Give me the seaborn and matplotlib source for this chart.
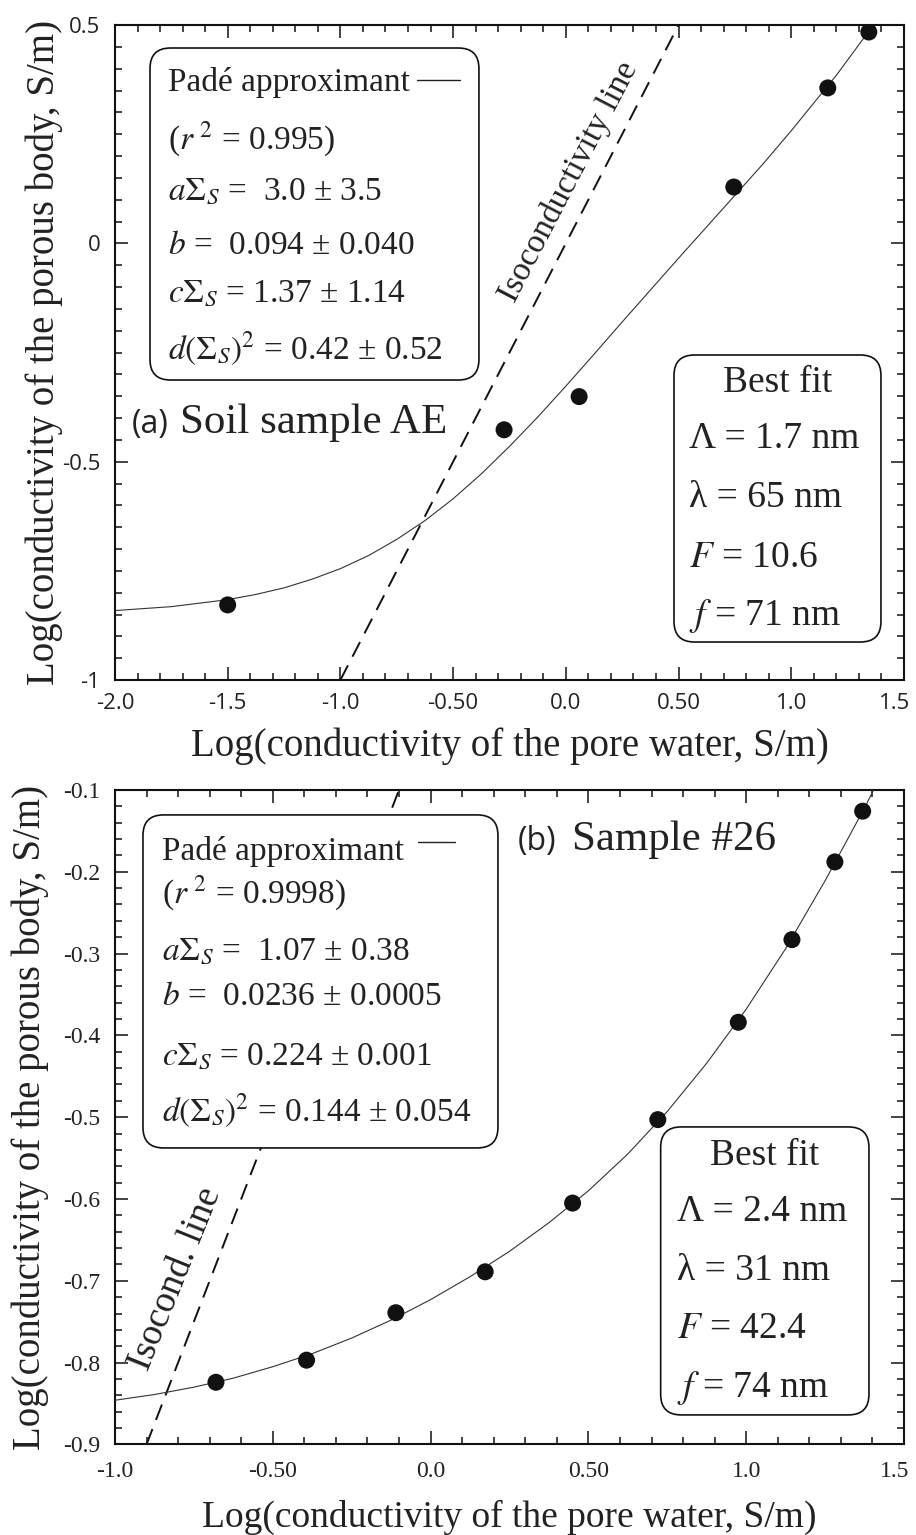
import numpy as np
import pandas as pd
import matplotlib
matplotlib.use("Agg")
import matplotlib.pyplot as plt
import seaborn as sns
from matplotlib.patches import FancyBboxPatch
from matplotlib.lines import Line2D
from matplotlib.ticker import MultipleLocator
from matplotlib.transforms import ScaledTranslation

# ---------------- data: panel (a) Soil sample AE ----------------
a_pts_x = [-1.50, -0.274, 0.059, 0.745, 1.162, 1.344]
a_pts_y = [-0.828, -0.427, -0.351, 0.129, 0.356, 0.484]
a_fit_x = [-2.0, -1.75, -1.5, -1.375, -1.25, -1.125, -1.0, -0.875, -0.75, -0.625,
           -0.5, -0.375, -0.25, -0.125, 0.0, 0.125, 0.25, 0.375, 0.5, 0.625,
           0.75, 0.875, 1.0, 1.2, 1.4]
a_fit_y = [-0.841, -0.832, -0.816, -0.804, -0.789, -0.769, -0.745, -0.715, -0.678, -0.635,
           -0.585, -0.528, -0.465, -0.398, -0.327, -0.254, -0.180, -0.107, -0.034, 0.038,
           0.110, 0.182, 0.258, 0.385, 0.525]
a_iso = [-1.0, 0.5]
a_xticks = [-2.0, -1.5, -1.0, -0.5, 0.0, 0.5, 1.0, 1.5]
a_xticklabels = ["-2.0", "-1.5", "-1.0", "-0.50", "0.0", "0.50", "1.0", "1.5"]
a_yticks = [-1.0, -0.5, 0.0, 0.5]
a_yticklabels = ["-1", "-0.5", "0", "0.5"]
a_pade_lines = ["Padé approximant",
                r"($r^{\,\,2}$ = 0.995)",
                r"$a\Sigma_S$ =  3.0 ± 3.5",
                r"$b$ =  0.094 ± 0.040",
                r"$c\Sigma_S$ = 1.37 ± 1.14",
                r"$d(\Sigma_S)^2$ = 0.42 ± 0.52"]
a_best_lines = ["Best fit", "Λ = 1.7 nm", "λ = 65 nm", r"$F$ = 10.6", r"$f$ = 71 nm"]

# ---------------- data: panel (b) Sample #26 ----------------
b_pts_x = [-0.680, -0.393, -0.110, 0.173, 0.450, 0.720, 0.975, 1.145, 1.281, 1.369]
b_pts_y = [-0.824, -0.797, -0.739, -0.689, -0.605, -0.503, -0.384, -0.283, -0.188, -0.126]
b_fit_x = [-1.0, -0.875, -0.75, -0.625, -0.5, -0.375, -0.25, -0.125, 0.0, 0.125,
           0.25, 0.375, 0.5, 0.625, 0.75, 0.875, 1.0, 1.125, 1.25, 1.375, 1.5]
b_fit_y = [-0.846, -0.839, -0.830, -0.819, -0.805, -0.789, -0.770, -0.748, -0.723, -0.695,
           -0.664, -0.629, -0.590, -0.545, -0.493, -0.434, -0.368, -0.294, -0.211, -0.122,
           -0.026]
b_iso = [-0.9, -0.1]
b_xticks = [-1.0, -0.5, 0.0, 0.5, 1.0, 1.5]
b_xticklabels = ["-1.0", "-0.50", "0.0", "0.50", "1.0", "1.5"]
b_yticks = [-0.9, -0.8, -0.7, -0.6, -0.5, -0.4, -0.3, -0.2, -0.1]
b_yticklabels = ["-0.9", "-0.8", "-0.7", "-0.6", "-0.5", "-0.4", "-0.3", "-0.2", "-0.1"]
b_pade_lines = ["Padé approximant",
                r"($r^{\,\,2}$ = 0.9998)",
                r"$a\Sigma_S$ =  1.07 ± 0.38",
                r"$b$ =  0.0236 ± 0.0005",
                r"$c\Sigma_S$ = 0.224 ± 0.001",
                r"$d(\Sigma_S)^2$ = 0.144 ± 0.054"]
b_best_lines = ["Best fit", "Λ = 2.4 nm", "λ = 31 nm", r"$F$ = 42.4", r"$f$ = 74 nm"]

xlabel = "Log(conductivity of the pore water, S/m)"
ylabel = "Log(conductivity of the porous body, S/m)"

# ---------------- style ----------------
sns.set_theme(style="ticks")
plt.rcParams["font.family"] = ["Liberation Serif", "DejaVu Serif"]
plt.rcParams["mathtext.fontset"] = "stix"
TXT = "#222222"
plt.rcParams["text.color"] = TXT
plt.rcParams["axes.labelcolor"] = TXT

fig = plt.figure(figsize=(9.16, 15.35), dpi=100)
fig.patch.set_facecolor("white")
ax1 = fig.add_axes([0.1255, 0.5570, 0.8614, 0.4267])
ax2 = fig.add_axes([0.1255, 0.0590, 0.8614, 0.4264])


def draw_panel(ax, fit_x, fit_y, pts_x, pts_y, iso):
    sns.lineplot(x=fit_x, y=fit_y, ax=ax, color="#333333", lw=0.8,
                 sort=False, estimator=None, zorder=3)
    sns.lineplot(x=iso, y=iso, ax=ax, color="#111111", lw=1.4,
                 sort=False, estimator=None, zorder=2)
    ax.lines[-1].set_dashes((8.5, 5))
    sns.scatterplot(x=pts_x, y=pts_y, ax=ax, s=150, color="#111111",
                    edgecolor="none", zorder=4)


def style_axes(ax, xlim, ylim, xticks, xtl, yticks, ytl, xminor, yminor,
               tickfont, ticksize, xpad, ypad):
    ax.set_xlim(*xlim)
    ax.set_ylim(*ylim)
    ax.set_xticks(xticks)
    ax.set_xticklabels(xtl, fontfamily=tickfont, fontsize=ticksize, color=TXT)
    ax.set_yticks(yticks)
    ax.set_yticklabels(ytl, fontfamily=tickfont, fontsize=ticksize, color=TXT)
    ax.xaxis.set_minor_locator(MultipleLocator(xminor))
    ax.yaxis.set_minor_locator(MultipleLocator(yminor))
    ax.tick_params(which="both", direction="in", top=True, right=True,
                   color="#111111", width=1.1)
    ax.tick_params(which="major", length=9.5)
    ax.tick_params(which="minor", length=5)
    ax.tick_params(axis="x", which="major", pad=xpad)
    ax.tick_params(axis="y", which="major", pad=ypad)
    for sp in ax.spines.values():
        sp.set_visible(True)
        sp.set_linewidth(1.5)
        sp.set_color("#111111")
    ax.set_facecolor("white")
    ax.grid(False)
    # nudge the right-most x tick label inward, as in the original
    last = ax.get_xticklabels()[-1]
    last.set_transform(last.get_transform() +
                       ScaledTranslation(-7 / 72, 0, fig.dpi_scale_trans))


def rbox(ax, x0, y0, x1, y1):
    bb = ax.get_position()
    W = bb.width * fig.get_figwidth()
    H = bb.height * fig.get_figheight()
    p = FancyBboxPatch((x0, y0), x1 - x0, y1 - y0,
                       boxstyle="round,pad=0,rounding_size=0.026",
                       mutation_aspect=W / H, transform=ax.transAxes,
                       fc="white", ec="#111111", lw=1.2, zorder=5)
    ax.add_patch(p)


def put(ax, x, y, s, size, ha="left", family=None):
    kw = {}
    if family is not None:
        kw["fontfamily"] = family
    ax.text(x, y, s, transform=ax.transAxes, fontsize=size, ha=ha,
            va="baseline", zorder=6, color=TXT, **kw)


# ---------------- panel (a) ----------------
draw_panel(ax1, a_fit_x, a_fit_y, a_pts_x, a_pts_y, a_iso)
style_axes(ax1, (-2.0, 1.5), (-1.0, 0.5), a_xticks, a_xticklabels, a_yticks,
           a_yticklabels, 0.1, 0.05, "Open Sans", 16, 9.5, 10.5)
ax1.set_xlabel(xlabel, fontsize=28, va="top")
ax1.set_ylabel(ylabel, fontsize=28)
ax1.xaxis.set_label_coords(0.5, -0.072)
ax1.yaxis.set_label_coords(-0.066, 0.5)

rbox(ax1, 0.0444, 0.4580, 0.4613, 0.9649)
ys = [0.8997, 0.8107, 0.7339, 0.6504, 0.5776, 0.4885]
for s, y in zip(a_pade_lines, ys):
    put(ax1, 0.0672, y, s, 24)
ax1.add_line(Line2D([0.3828, 0.4373], [0.9160, 0.9160], transform=ax1.transAxes,
                    color="#222222", lw=1.0, zorder=6))

rbox(ax1, 0.7085, 0.0580, 0.9708, 0.4962)
put(ax1, 0.8397, 0.4402, a_best_lines[0], 27, ha="center")
for s, y in zip(a_best_lines[1:], [0.3542, 0.2646, 0.1730, 0.0840]):
    put(ax1, 0.7275, y, s, 27)

put(ax1, 0.0215, 0.3771, "(a)", 23, family="Open Sans")
put(ax1, 0.0824, 0.3771, "Soil sample AE", 31)
ax1.text(0.012, 0.140, "Isoconductivity line", fontsize=24, rotation=62.5,
         rotation_mode="anchor", ha="center", va="center", color=TXT, zorder=6)

# ---------------- panel (b) ----------------
draw_panel(ax2, b_fit_x, b_fit_y, b_pts_x, b_pts_y, b_iso)
style_axes(ax2, (-1.0, 1.5), (-0.9, -0.1), b_xticks, b_xticklabels, b_yticks,
           b_yticklabels, 0.1, 0.02, "Liberation Serif", 17, 12, 10.5)
ax2.set_xlabel(xlabel, fontsize=27, va="top")
ax2.set_ylabel(ylabel, fontsize=28)
ax2.xaxis.set_label_coords(0.5, -0.084)
ax2.yaxis.set_label_coords(-0.084, 0.5)

rbox(ax2, 0.0355, 0.4530, 0.4854, 0.9618)
ys = [0.8930, 0.8273, 0.7403, 0.6715, 0.5798, 0.4927]
for s, y in zip(b_pade_lines, ys):
    put(ax2, 0.0592, y, s, 24)
ax2.add_line(Line2D([0.3840, 0.4309], [0.9206, 0.9206], transform=ax2.transAxes,
                    color="#222222", lw=1.0, zorder=6))

rbox(ax2, 0.6916, 0.0451, 0.9556, 0.4851)
put(ax2, 0.8236, 0.4270, b_best_lines[0], 27, ha="center")
for s, y in zip(b_best_lines[1:], [0.3419, 0.2513, 0.1627, 0.0726]):
    put(ax2, 0.7119, y, s, 27)

put(ax2, 0.5108, 0.9083, "(b)", 23, family="Open Sans")
put(ax2, 0.5792, 0.9083, "Sample #26", 31)
ax2.text(-0.808, -0.697, "Isocond. line", fontsize=27, rotation=68,
         rotation_mode="anchor", ha="center", va="center", color=TXT, zorder=6)

fig.savefig("out.png", dpi=100, facecolor="white")
